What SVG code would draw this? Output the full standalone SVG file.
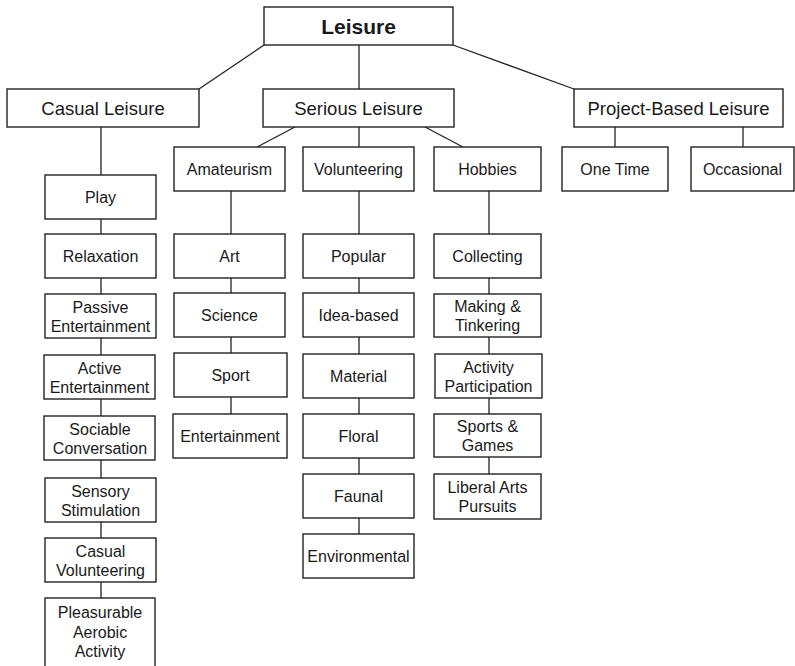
<svg xmlns="http://www.w3.org/2000/svg" width="795" height="666" viewBox="0 0 795 666">
<style>
rect{fill:#fff;stroke:#222;stroke-width:1.4}
line{stroke:#222;stroke-width:1.3}
text{font-family:"Liberation Sans",Arial,sans-serif;font-size:16px;fill:#1a1a1a;text-anchor:middle}
.top{font-size:18.5px}
.root{font-size:21px;font-weight:bold}
</style>
<rect x="0" y="0" width="795" height="666" style="stroke:none"/>
<g id="connectors">
<line x1="264" y1="45" x2="199" y2="89"/>
<line x1="359" y1="45" x2="359" y2="89"/>
<line x1="453" y1="45" x2="574" y2="89"/>
<line x1="101" y1="127" x2="101" y2="175"/>
<line x1="101" y1="219" x2="101" y2="234"/>
<line x1="101" y1="278" x2="101" y2="294"/>
<line x1="101" y1="338" x2="101" y2="355"/>
<line x1="101" y1="399" x2="101" y2="416"/>
<line x1="101" y1="460" x2="101" y2="478"/>
<line x1="101" y1="522" x2="101" y2="538"/>
<line x1="101" y1="582" x2="101" y2="598"/>
<line x1="295" y1="127" x2="257" y2="147"/>
<line x1="359" y1="127" x2="359" y2="147"/>
<line x1="425" y1="127" x2="463" y2="147"/>
<line x1="231" y1="191" x2="231" y2="234"/>
<line x1="231" y1="278" x2="231" y2="293"/>
<line x1="231" y1="337" x2="231" y2="353"/>
<line x1="231" y1="397" x2="231" y2="414"/>
<line x1="359" y1="191" x2="359" y2="234"/>
<line x1="359" y1="278" x2="359" y2="293"/>
<line x1="359" y1="337" x2="359" y2="354"/>
<line x1="359" y1="398" x2="359" y2="414"/>
<line x1="359" y1="458" x2="359" y2="474"/>
<line x1="359" y1="518" x2="359" y2="534"/>
<line x1="489" y1="191" x2="489" y2="234"/>
<line x1="489" y1="278" x2="489" y2="294"/>
<line x1="489" y1="337" x2="489" y2="354"/>
<line x1="489" y1="398" x2="489" y2="414"/>
<line x1="489" y1="457" x2="489" y2="474"/>
<line x1="615" y1="127" x2="615" y2="147"/>
<line x1="743" y1="127" x2="743" y2="147"/>
</g>
<g id="leisure"><rect x="264" y="7" width="189" height="38"/><text class="root" x="358.5" y="33.5">Leisure</text></g>
<g id="casual"><rect x="7" y="89" width="192" height="38"/><text class="top" x="103" y="114.5">Casual Leisure</text></g>
<g id="serious"><rect x="263" y="89" width="191" height="38"/><text class="top" x="358.5" y="114.5">Serious Leisure</text></g>
<g id="project"><rect x="574" y="89" width="209" height="38"/><text class="top" x="678.5" y="114.5">Project-Based Leisure</text></g>

<g id="play"><rect x="45" y="175" width="111" height="44"/><text x="100.5" y="202.5">Play</text></g>
<g id="relaxation"><rect x="45" y="234" width="111" height="44"/><text x="100.5" y="261.5">Relaxation</text></g>
<g id="passive"><rect x="45" y="294" width="111" height="44"/><text x="100.5" y="312.5">Passive</text><text x="100.5" y="331.5">Entertainment</text></g>
<g id="active"><rect x="44" y="355" width="111" height="44"/><text x="99.5" y="373.5">Active</text><text x="99.5" y="392.5">Entertainment</text></g>
<g id="sociable"><rect x="44" y="416" width="111" height="44"/><text x="100" y="434.5">Sociable</text><text x="100" y="453.5">Conversation</text></g>
<g id="sensory"><rect x="45" y="478" width="111" height="44"/><text x="100.5" y="496.5">Sensory</text><text x="100.5" y="515.5">Stimulation</text></g>
<g id="casualvol"><rect x="45" y="538" width="111" height="44"/><text x="100.5" y="556.5">Casual</text><text x="100.5" y="575.5">Volunteering</text></g>
<g id="pleasurable"><rect x="45" y="598" width="110" height="80"/><text x="100" y="617.5">Pleasurable</text><text x="100" y="637.5">Aerobic</text><text x="100" y="656.5">Activity</text></g>

<g id="amateurism"><rect x="174" y="147" width="111" height="44"/><text x="229.5" y="174.5">Amateurism</text></g>
<g id="art"><rect x="174" y="234" width="111" height="44"/><text x="229.5" y="261.5">Art</text></g>
<g id="science"><rect x="174" y="293" width="111" height="44"/><text x="229.5" y="320.5">Science</text></g>
<g id="sport"><rect x="174" y="353" width="113" height="44"/><text x="230.5" y="380.5">Sport</text></g>
<g id="entertainment"><rect x="173" y="414" width="114" height="44"/><text x="230" y="441.5">Entertainment</text></g>

<g id="volunteering"><rect x="303" y="147" width="111" height="44"/><text x="358.5" y="174.5">Volunteering</text></g>
<g id="popular"><rect x="303" y="234" width="111" height="44"/><text x="358.5" y="261.5">Popular</text></g>
<g id="ideabased"><rect x="303" y="293" width="111" height="44"/><text x="358.5" y="320.5">Idea-based</text></g>
<g id="material"><rect x="303" y="354" width="111" height="44"/><text x="358.5" y="381.5">Material</text></g>
<g id="floral"><rect x="303" y="414" width="111" height="44"/><text x="358.5" y="441.5">Floral</text></g>
<g id="faunal"><rect x="303" y="474" width="111" height="44"/><text x="358.5" y="501.5">Faunal</text></g>
<g id="environmental"><rect x="303" y="534" width="111" height="44"/><text x="358.5" y="561.5">Environmental</text></g>

<g id="hobbies"><rect x="434" y="147" width="107" height="44"/><text x="487.5" y="174.5">Hobbies</text></g>
<g id="collecting"><rect x="434" y="234" width="107" height="44"/><text x="487.5" y="261.5">Collecting</text></g>
<g id="making"><rect x="434" y="294" width="107" height="43"/><text x="487.5" y="312">Making &amp;</text><text x="487.5" y="331">Tinkering</text></g>
<g id="activity"><rect x="435" y="354" width="107" height="44"/><text x="488.5" y="372.5">Activity</text><text x="488.5" y="391.5">Participation</text></g>
<g id="sports"><rect x="434" y="414" width="107" height="43"/><text x="487.5" y="432">Sports &amp;</text><text x="487.5" y="451">Games</text></g>
<g id="liberal"><rect x="434" y="474" width="107" height="45"/><text x="487.5" y="493">Liberal Arts</text><text x="487.5" y="512">Pursuits</text></g>

<g id="onetime"><rect x="562" y="147" width="106" height="44"/><text x="615" y="174.5">One Time</text></g>
<g id="occasional"><rect x="691" y="147" width="103" height="44"/><text x="742.5" y="174.5">Occasional</text></g>
</svg>
